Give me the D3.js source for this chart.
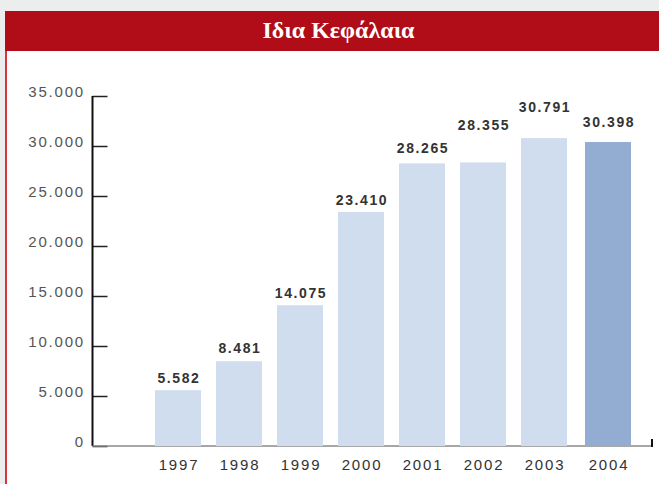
<!DOCTYPE html>
<html>
<head>
<meta charset="utf-8">
<script src="https://cdn.jsdelivr.net/npm/d3@7"></script>
<style>
  body { margin: 0; background: #eceeed; }
  svg { display: block; }
</style>
</head>
<body>
<div id="chart"></div>
<script>
const years = ["1997", "1998", "1999", "2000", "2001", "2002", "2003", "2004"];
const values = [5582, 8481, 14075, 23410, 28265, 28355, 30791, 30398];
const yTicks = [0, 5000, 10000, 15000, 20000, 25000, 30000, 35000];
const title = "Ιδια Κεφάλαια";

// how far each value label sits above its bar (layout only, as in the original)
const labelLift = [13, 14, 13, 12, 16, 38, 32, 21];

const W = 659, H = 484;
const fmt = (v) => d3.format(",")(v).replace(/,/g, ".");
const sans = "Liberation Sans, Arial, sans-serif";

const svg = d3.select("#chart").append("svg")
  .attr("width", W).attr("height", H);

// panel + header
svg.append("rect").attr("x", 5).attr("y", 50).attr("width", W - 5).attr("height", H - 50)
  .attr("fill", "#fff");
svg.append("line").attr("x1", 6).attr("x2", 6).attr("y1", 50).attr("y2", H)
  .attr("stroke", "#d9343d").attr("stroke-width", 2);
svg.append("rect").attr("x", 5).attr("y", 11).attr("width", W - 5).attr("height", 40)
  .attr("fill", "#b00d18");
svg.append("text").attr("x", 338.5).attr("y", 37.5)
  .attr("text-anchor", "middle")
  .attr("fill", "#fff")
  .attr("font-family", "Liberation Serif, DejaVu Serif, serif")
  .attr("font-size", "24px")
  .attr("font-weight", "bold")
  .text(title);

const x = d3.scaleBand()
  .domain(years)
  .range([147.5, 635.5])
  .paddingInner(0.246)
  .paddingOuter(0.123);

const y = d3.scaleLinear().domain([0, 35000]).range([446, 96]);

const axisX = 92.5;
const shift = (i) => (i === years.length - 1 ? 3 : 0);

// y axis
const ya = svg.append("g").attr("transform", `translate(${axisX},0)`)
  .call(d3.axisRight(y).tickValues(yTicks).tickSize(15).tickFormat(""));
ya.select(".domain").remove();
ya.selectAll(".tick line").attr("stroke", "#222").attr("stroke-width", 1.5);
svg.append("line").attr("x1", axisX).attr("x2", axisX).attr("y1", y(35000)).attr("y2", y(0))
  .attr("stroke", "#111").attr("stroke-width", 2);

svg.append("g").selectAll("text")
  .data(yTicks)
  .join("text")
  .attr("x", 85)
  .attr("y", (d) => y(d) + 1)
  .attr("text-anchor", "end")
  .attr("fill", "#555")
  .attr("font-family", sans)
  .attr("font-size", "15px")
  .attr("letter-spacing", "1.8px")
  .text((d) => fmt(d));

// baseline
svg.append("line").attr("x1", axisX).attr("x2", 652).attr("y1", y(0)).attr("y2", y(0))
  .attr("stroke", "#8a8a8a").attr("stroke-width", 1.5);
svg.append("line").attr("x1", 652).attr("x2", 652).attr("y1", y(0) - 7).attr("y2", y(0) + 1)
  .attr("stroke", "#111").attr("stroke-width", 2);

// bars
svg.append("g").selectAll("rect")
  .data(values)
  .join("rect")
  .attr("x", (d, i) => x(years[i]) + shift(i))
  .attr("y", (d) => y(d))
  .attr("width", x.bandwidth())
  .attr("height", (d) => y(0) - y(d))
  .attr("fill", (d, i) => (i === years.length - 1 ? "#93acd2" : "#d0ddee"));

// value labels
svg.append("g").selectAll("text")
  .data(values)
  .join("text")
  .attr("x", (d, i) => x(years[i]) + x.bandwidth() / 2 + shift(i) + 1)
  .attr("y", (d, i) => y(d) - labelLift[i] + 5.5)
  .attr("text-anchor", "middle")
  .attr("fill", "#333")
  .attr("font-family", sans)
  .attr("font-size", "14px")
  .attr("font-weight", "bold")
  .attr("letter-spacing", "1.6px")
  .text((d) => fmt(d));

// year labels
svg.append("g").selectAll("text")
  .data(years)
  .join("text")
  .attr("x", (d, i) => x(d) + x.bandwidth() / 2 + shift(i) + 1)
  .attr("y", 470)
  .attr("text-anchor", "middle")
  .attr("fill", "#333")
  .attr("font-family", sans)
  .attr("font-size", "15px")
  .attr("letter-spacing", "1.8px")
  .text((d) => d);
</script>
</body>
</html>
